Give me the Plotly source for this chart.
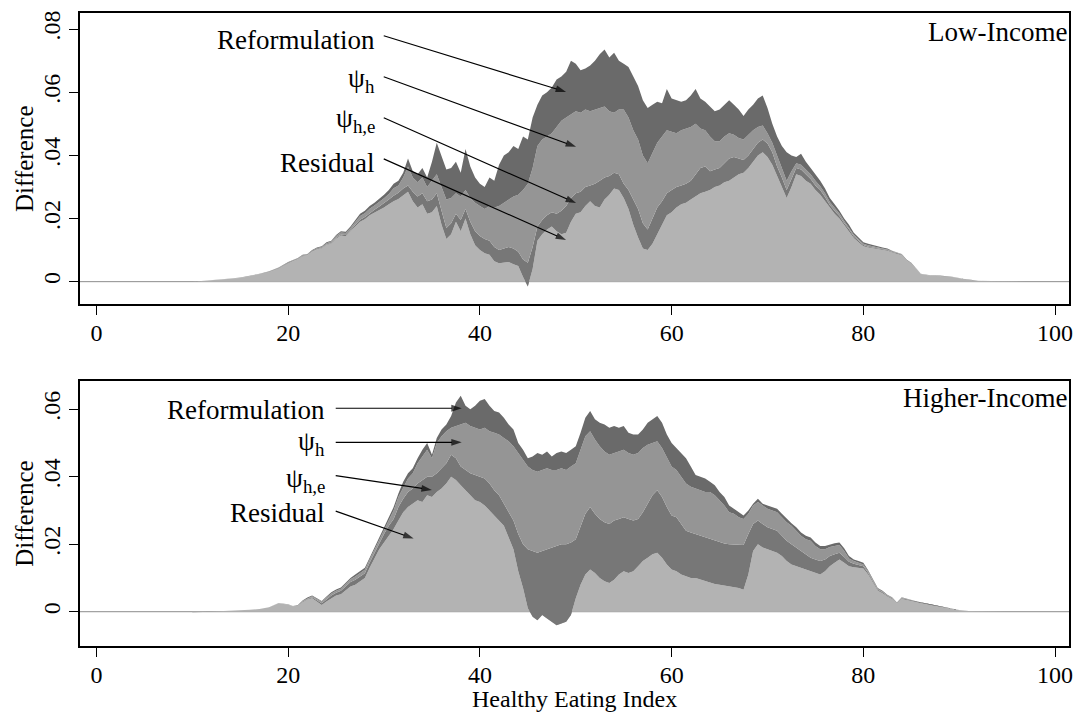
import plotly.graph_objects as go

# Healthy Eating Index grid (finer where the distribution has mass)
hei = list(range(10, 20)) + [20 + 0.5 * i for i in range(131)] + list(range(86, 98))

# ---- Low-Income: cumulative levels (residual, +psi_h,e, +psi_h, +reformulation)
low_residual = [
    0, .0002, .0004, .0007, .0009, .0012, .0017, .0024, .0031, .0042,
    .0058, .0064, .0070, .0080, .0083, .0094, .0101, .0105, .0116, .0120,
    .0136, .0146, .0144, .0158, .0175, .0190, .0198, .0210, .0218, .0227,
    .0235, .0245, .0255, .0262, .0275, .0285, .0255, .0235, .0245, .0215,
    .0220, .0240, .0180, .0135, .0150, .0190, .0160, .0200, .0150, .0115,
    .0100, .0090, .0085, .0065, .0058, .0060, .0062, .0055, .0050, .0015,
    -.0015, .0040, .0130, .0150, .0165, .0175, .0160, .0150, .0155, .0190,
    .0215, .0220, .0240, .0255, .0240, .0235, .0260, .0275, .0295, .0290,
    .0265, .0230, .0180, .0140, .0105, .0100, .0120, .0150, .0180, .0210,
    .0220, .0235, .0245, .0250, .0260, .0270, .0280, .0285, .0290, .0300,
    .0305, .0315, .0320, .0330, .0340, .0345, .0360, .0380, .0400, .0410,
    .0395, .0370, .0335, .0300, .0265, .0300, .0340, .0335, .0320, .0310,
    .0290, .0275, .0255, .0232, .0215, .0200, .0178, .0160, .0138, .0125,
    .0112, .0108, .0105, .0102, .0100, .0098, .0092, .0089, .0084, .0067,
    .0057,
    .0024, .0019, .0017, .0016, .0011, .0006, .0003, .0002, .0001, .0001, 0, 0,
]
low_he = [
    0, .0002, .0004, .0007, .0009, .0012, .0017, .0024, .0032, .0043,
    .0059, .0065, .0071, .0081, .0084, .0095, .0102, .0107, .0118, .0122,
    .0139, .0149, .0148, .0162, .0180, .0196, .0205, .0218, .0228, .0238,
    .0248, .0260, .0272, .0282, .0295, .0305, .0285, .0270, .0280, .0255,
    .0260, .0280, .0225, .0170, .0185, .0215, .0195, .0230, .0190, .0160,
    .0145, .0135, .0130, .0110, .0100, .0105, .0110, .0105, .0095, .0070,
    .0060, .0110, .0175, .0195, .0210, .0220, .0215, .0225, .0240, .0265,
    .0280, .0285, .0300, .0305, .0310, .0320, .0330, .0335, .0345, .0340,
    .0310, .0290, .0260, .0230, .0185, .0165, .0200, .0235, .0255, .0280,
    .0290, .0300, .0305, .0310, .0320, .0340, .0360, .0365, .0350, .0355,
    .0360, .0375, .0390, .0395, .0390, .0385, .0400, .0420, .0440, .0450,
    .0438, .0410, .0365, .0330, .0290, .0325, .0360, .0355, .0340, .0325,
    .0305, .0290, .0268, .0243, .0225, .0208, .0185, .0166, .0143, .0129,
    .0116, .0111, .0108, .0105, .0102, .0100, .0094, .0091, .0085, .0068,
    .0058,
    .0024, .0019, .0017, .0016, .0011, .0006, .0003, .0002, .0001, .0001, 0, 0,
]
low_h = [
    0, .0002, .0004, .0007, .0010, .0013, .0018, .0025, .0033, .0044,
    .0061, .0067, .0074, .0084, .0087, .0098, .0106, .0110, .0122, .0127,
    .0145, .0156, .0154, .0170, .0189, .0208, .0217, .0231, .0241, .0252,
    .0264, .0278, .0296, .0305, .0330, .0365, .0330, .0315, .0330, .0300,
    .0320, .0340, .0300, .0260, .0265, .0280, .0270, .0290, .0265, .0250,
    .0240, .0230, .0240, .0235, .0240, .0250, .0260, .0270, .0275, .0290,
    .0310, .0360, .0430, .0450, .0460, .0470, .0490, .0510, .0520, .0530,
    .0540, .0535, .0545, .0540, .0545, .0550, .0555, .0540, .0535, .0545,
    .0545, .0520, .0480, .0450, .0400, .0375, .0410, .0440, .0460, .0480,
    .0475, .0470, .0480, .0485, .0490, .0500, .0485, .0480, .0460, .0445,
    .0445, .0460, .0470, .0465, .0455, .0450, .0465, .0480, .0490, .0495,
    .0470, .0440, .0400, .0360, .0320, .0350, .0375, .0370, .0355, .0340,
    .0320, .0302, .0280, .0252, .0234, .0216, .0192, .0172, .0149, .0134,
    .0120, .0115, .0111, .0108, .0105, .0102, .0096, .0092, .0087, .0069,
    .0059,
    .0025, .0020, .0018, .0017, .0012, .0006, .0003, .0002, .0001, .0001, 0, 0,
]
low_total = [
    0, .0002, .0004, .0007, .0010, .0013, .0018, .0025, .0033, .0045,
    .0062, .0068, .0075, .0085, .0088, .0100, .0108, .0112, .0125, .0130,
    .0148, .0160, .0158, .0175, .0195, .0215, .0225, .0240, .0250, .0262,
    .0275, .0290, .0310, .0320, .0345, .0390, .0350, .0340, .0360, .0330,
    .0380, .0440, .0400, .0355, .0360, .0380, .0345, .0420, .0365, .0330,
    .0310, .0300, .0330, .0320, .0370, .0400, .0410, .0430, .0420, .0460,
    .0450, .0520, .0560, .0590, .0600, .0615, .0640, .0650, .0665, .0700,
    .0690, .0670, .0675, .0685, .0700, .0720, .0735, .0710, .0725, .0700,
    .0690, .0680, .0650, .0620, .0575, .0550, .0560, .0570, .0565, .0610,
    .0580, .0575, .0570, .0575, .0590, .0610, .0580, .0570, .0555, .0540,
    .0545, .0560, .0575, .0560, .0545, .0525, .0545, .0560, .0580, .0590,
    .0550, .0500, .0460, .0430, .0410, .0400, .0395, .0405, .0380, .0360,
    .0340, .0320, .0295, .0265, .0245, .0225, .0200, .0180, .0155, .0140,
    .0125, .0120, .0115, .0112, .0108, .0105, .0098, .0094, .0088, .0070,
    .0060,
    .0025, .0020, .0018, .0017, .0012, .0006, .0003, .0002, .0001, .0001, 0, 0,
]

# ---- Higher-Income: cumulative levels
high_residual = [
    -.0002, -.0001, 0, .0002, .0003, .0004, .0006, .0008, .0013, .0025,
    .0021, .0016, .0017, .0028, .0036, .0040, .0030, .0020, .0030, .0040,
    .0048, .0052, .0065, .0075, .0080, .0090, .0100, .0130, .0160, .0185,
    .0205, .0225, .0245, .0270, .0295, .0310, .0320, .0330, .0325, .0345,
    .0340, .0355, .0365, .0380, .0400, .0390, .0375, .0360, .0345, .0330,
    .0325, .0315, .0300, .0285, .0270, .0255, .0220, .0185, .0120, .0070,
    .0010, -.0015, -.0025, -.0010, -.0020, -.0030, -.0040, -.0035, -.0030, -.0010,
    .0040, .0080, .0110, .0125, .0115, .0100, .0090, .0085, .0095, .0110,
    .0120, .0115, .0120, .0135, .0150, .0160, .0170, .0175, .0160, .0140,
    .0125, .0120, .0110, .0105, .0100, .0100, .0095, .0090, .0085, .0082,
    .0080, .0078, .0075, .0072, .0070, .0065, .0110, .0180, .0200, .0190,
    .0185, .0180, .0175, .0165, .0150, .0140, .0135, .0130, .0125, .0120,
    .0115, .0110, .0120, .0135, .0145, .0155, .0145, .0135, .0132, .0130,
    .0128, .0110, .0085, .0062, .0055, .0045, .0038, .0024, .0038, .0036,
    .0032,
    .0025, .0020, .0014, .0008, .0004, .0002, .0001, .0001, 0, 0, 0, 0,
]
high_he = [
    -.0002, -.0001, 0, .0002, .0003, .0004, .0006, .0008, .0013, .0025,
    .0021, .0016, .0018, .0030, .0038, .0043, .0034, .0025, .0036, .0048,
    .0056, .0062, .0075, .0088, .0095, .0104, .0114, .0145, .0175, .0205,
    .0230, .0255, .0275, .0310, .0335, .0355, .0365, .0380, .0390, .0400,
    .0400, .0410, .0425, .0440, .0465, .0455, .0430, .0420, .0410, .0405,
    .0400, .0395, .0380, .0360, .0345, .0320, .0295, .0270, .0230, .0200,
    .0185, .0180, .0175, .0180, .0185, .0190, .0195, .0200, .0200, .0205,
    .0215, .0250, .0290, .0310, .0290, .0275, .0265, .0260, .0270, .0275,
    .0280, .0275, .0270, .0275, .0295, .0320, .0345, .0360, .0340, .0310,
    .0285, .0280, .0260, .0240, .0235, .0230, .0225, .0220, .0215, .0210,
    .0205, .0202, .0200, .0200, .0198, .0198, .0230, .0260, .0270, .0260,
    .0250, .0245, .0240, .0225, .0210, .0200, .0190, .0180, .0170, .0160,
    .0155, .0150, .0155, .0165, .0170, .0175, .0162, .0148, .0142, .0138,
    .0135, .0115, .0090, .0065, .0058, .0047, .0040, .0025, .0040, .0037,
    .0033,
    .0026, .0021, .0015, .0009, .0004, .0002, .0001, .0001, 0, 0, 0, 0,
]
high_h = [
    -.0002, -.0001, 0, .0002, .0003, .0004, .0006, .0008, .0013, .0026,
    .0022, .0017, .0019, .0032, .0040, .0046, .0038, .0030, .0042, .0054,
    .0062, .0068, .0082, .0096, .0104, .0114, .0124, .0155, .0185, .0215,
    .0245, .0275, .0300, .0340, .0370, .0395, .0410, .0440, .0460, .0480,
    .0455, .0500, .0520, .0535, .0545, .0550, .0555, .0560, .0550, .0545,
    .0540, .0545, .0535, .0530, .0525, .0515, .0505, .0490, .0470, .0450,
    .0430, .0420, .0415, .0420, .0425, .0420, .0420, .0425, .0420, .0430,
    .0440, .0480, .0520, .0535, .0510, .0490, .0475, .0465, .0470, .0475,
    .0480, .0470, .0465, .0470, .0485, .0495, .0500, .0505, .0485, .0455,
    .0430, .0420, .0400, .0380, .0370, .0365, .0360, .0355, .0355, .0345,
    .0330, .0315, .0295, .0290, .0280, .0275, .0290, .0315, .0325, .0315,
    .0305, .0300, .0295, .0280, .0265, .0255, .0240, .0225, .0215, .0210,
    .0195, .0185, .0185, .0192, .0195, .0198, .0180, .0158, .0150, .0145,
    .0140, .0120, .0093, .0068, .0060, .0049, .0042, .0026, .0042, .0038,
    .0034,
    .0027, .0021, .0015, .0009, .0005, .0002, .0001, .0001, 0, 0, 0, 0,
]
high_total = [
    -.0002, -.0001, 0, .0002, .0003, .0004, .0006, .0008, .0013, .0026,
    .0022, .0017, .0020, .0033, .0042, .0048, .0040, .0032, .0045, .0058,
    .0066, .0072, .0086, .0100, .0110, .0120, .0130, .0160, .0190, .0220,
    .0255, .0285, .0310, .0350, .0385, .0410, .0425, .0455, .0480, .0500,
    .0465, .0515, .0540, .0555, .0580, .0620, .0640, .0610, .0600, .0610,
    .0625, .0630, .0610, .0595, .0590, .0575, .0555, .0540, .0500, .0480,
    .0455, .0460, .0470, .0465, .0475, .0460, .0470, .0475, .0470, .0480,
    .0490, .0530, .0575, .0595, .0570, .0560, .0555, .0545, .0550, .0545,
    .0550, .0530, .0525, .0525, .0540, .0560, .0570, .0580, .0560, .0525,
    .0500, .0485, .0470, .0455, .0430, .0405, .0400, .0395, .0385, .0375,
    .0355, .0340, .0315, .0305, .0295, .0285, .0300, .0320, .0335, .0320,
    .0315, .0310, .0305, .0290, .0275, .0262, .0250, .0235, .0225, .0220,
    .0205, .0195, .0195, .0200, .0203, .0205, .0188, .0165, .0155, .0150,
    .0145, .0123, .0095, .0070, .0062, .0050, .0043, .0027, .0043, .0039,
    .0035,
    .0027, .0022, .0016, .0010, .0005, .0002, .0001, .0001, 0, 0, 0, 0,
]

layer_colors = ["#b3b3b3", "#777777", "#959595", "#6a6a6a"]
label_order = ["Reformulation", "ψ<sub>h</sub>", "ψ<sub>h,e</sub>", "Residual"]

# label and arrow geometry (data coordinates of each panel)
low_label_x = 29.26
low_labels_y = [0.0766, 0.0639, 0.0513, 0.0376]
low_tails = [(29.97, 0.0779), (29.97, 0.0649), (29.97, 0.0519), (29.97, 0.0389)]
low_heads = [(48.99, 0.0601), (50.03, 0.0427), (50.03, 0.0249), (48.99, 0.0132)]

high_label_x = 24.04
high_labels_y = [0.0598, 0.0500, 0.0390, 0.0292]
high_tails = [(24.96, 0.0603), (24.96, 0.0502), (24.96, 0.0403), (24.96, 0.0298)]
high_heads = [(38.11, 0.0603), (38.11, 0.0502), (34.99, 0.0361), (33.09, 0.0217)]

FONT = "Liberation Serif, Times New Roman, serif"
TICK_SIZE = 24
LABEL_SIZE = 27

fig = go.Figure()


def add_panel(xa, ya, levels):
    for i, (lv, color) in enumerate(zip(levels, layer_colors)):
        fig.add_trace(go.Scatter(
            x=hei, y=lv, xaxis=xa, yaxis=ya, mode="lines",
            line=dict(width=0), fill="tozeroy" if i == 0 else "tonexty",
            fillcolor=color, hoverinfo="skip", showlegend=False,
        ))


def add_arrows(xa, ya, tails, heads):
    for (tx, ty), (hx, hy) in zip(tails, heads):
        fig.add_trace(go.Scatter(
            x=[tx, hx], y=[ty, hy], xaxis=xa, yaxis=ya, mode="lines+markers",
            line=dict(color="black", width=1.2),
            marker=dict(symbol="arrow", size=[0, 11], color="black",
                        angleref="previous", line=dict(width=0)),
            hoverinfo="skip", showlegend=False,
        ))


add_panel("x", "y", [low_residual, low_he, low_h, low_total])
add_arrows("x", "y", low_tails, low_heads)
add_panel("x2", "y2", [high_residual, high_he, high_h, high_total])
add_arrows("x2", "y2", high_tails, high_heads)

axis_common = dict(
    showline=True, linecolor="black", linewidth=1.5, mirror=True,
    showgrid=False, zeroline=False, ticks="outside", ticklen=9,
    tickwidth=1.2, tickcolor="black",
    tickfont=dict(family=FONT, size=TICK_SIZE, color="black"),
)
x_ticks = [0, 20, 40, 60, 80, 100]

fig.update_layout(
    width=1078, height=715,
    margin=dict(l=80, r=5, t=13, b=69),
    paper_bgcolor="white", plot_bgcolor="white",
    font=dict(family=FONT, color="black"),
    xaxis=dict(axis_common, domain=[0, 1], anchor="y", range=[-1.714, 101.45],
               tickvals=x_ticks, ticklabelstandoff=-3),
    yaxis=dict(axis_common, domain=[0.5403, 1.0], anchor="x",
               range=[-0.00707, 0.0851],
               tickvals=[0, .02, .04, .06, .08],
               ticktext=["0", ".02", ".04", ".06", ".08"], tickangle=-90),
    xaxis2=dict(axis_common, domain=[0, 1], anchor="y2", range=[-1.714, 101.45],
                tickvals=x_ticks, ticklabelstandoff=-3),
    yaxis2=dict(axis_common, domain=[0, 0.4186], anchor="x2",
                range=[-0.01016, 0.06836],
                tickvals=[0, .02, .04, .06],
                ticktext=["0", ".02", ".04", ".06"], tickangle=-90),
    shapes=[
        dict(type="line", xref="x domain", yref="y", x0=0, x1=1, y0=0, y1=0,
             line=dict(color="#8c8c8c", width=1), layer="below"),
        dict(type="line", xref="x2 domain", yref="y2", x0=0, x1=1, y0=0, y1=0,
             line=dict(color="#8c8c8c", width=1), layer="below"),
    ],
)

annotations = []

# axis titles
for yc in (0.7698, 0.2093):
    annotations.append(dict(
        text="Difference", xref="paper", yref="paper", x=-0.0564, y=yc,
        textangle=-90, showarrow=False, font=dict(size=25),
        xanchor="center", yanchor="middle"))
annotations.append(dict(
    text="Healthy Eating Index", xref="paper", yref="paper", x=0.4995, y=-0.0837,
    showarrow=False, font=dict(size=24), xanchor="center", yanchor="middle"))

# panel labels
annotations.append(dict(text="Low-Income", xref="x domain", yref="y",
                        x=1.0, y=0.0791, showarrow=False,
                        font=dict(size=LABEL_SIZE),
                        xanchor="right", yanchor="middle"))
annotations.append(dict(text="Higher-Income", xref="x2 domain", yref="y2",
                        x=1.0, y=0.0633, showarrow=False,
                        font=dict(size=LABEL_SIZE),
                        xanchor="right", yanchor="middle"))

# layer labels next to the arrows
for xr, yr, lx, lys in (("x", "y", low_label_x, low_labels_y),
                        ("x2", "y2", high_label_x, high_labels_y)):
    for lab, ly in zip(label_order, lys):
        annotations.append(dict(text=lab, xref=xr, yref=yr, x=lx, y=ly,
                                showarrow=False, font=dict(size=LABEL_SIZE),
                                xanchor="right", yanchor="middle"))

fig.update_layout(annotations=annotations)

fig.write_html("out.html")
